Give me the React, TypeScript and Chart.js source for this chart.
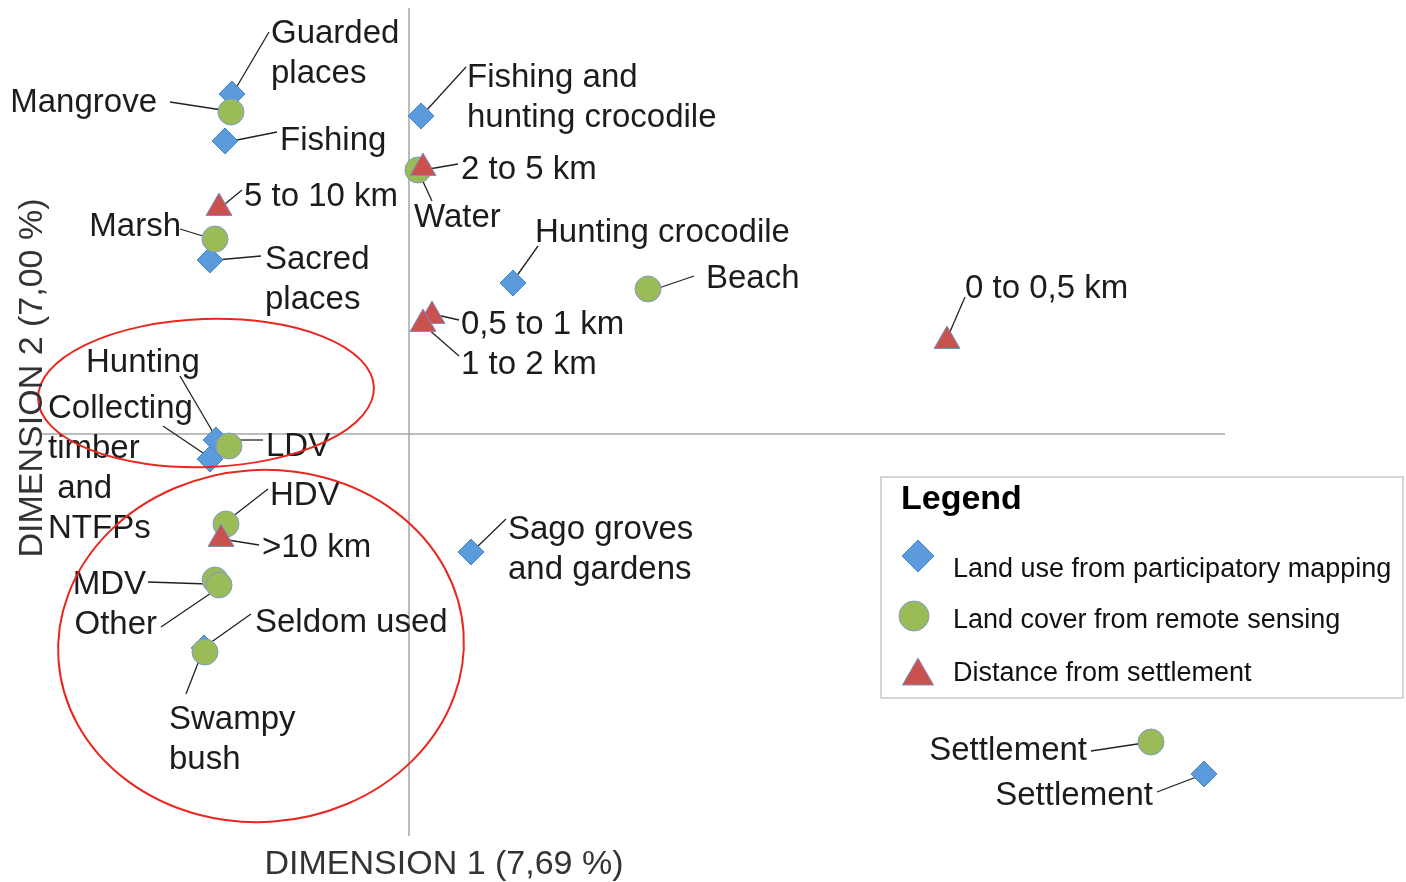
import React, { useEffect, useRef } from "react";
import { Chart, registerables } from "chart.js";

Chart.register(...registerables);

// ---- Data (dimension coordinates) ----
const landUseNames = [
  "Guarded places",
  "Fishing",
  "Fishing and hunting crocodile",
  "Sacred places",
  "Hunting crocodile",
  "Hunting",
  "Collecting timber and NTFPs",
  "Sago groves and gardens",
  "Seldom used",
  "Settlement",
];
const landUseX = [-0.885, -0.92, 0.06, -0.995, 0.52, -0.965, -0.995, 0.31, -1.025, 3.975];
const landUseY = [1.7, 1.465, 1.59, 0.87, 0.755, -0.03, -0.125, -0.59, -1.07, -1.7];

const landCoverNames = ["Mangrove", "Water", "Marsh", "Beach", "LDV", "HDV", "MDV", "Other", "Swampy bush", "Settlement"];
const landCoverX = [-0.89, 0.045, -0.97, 1.195, -0.9, -0.915, -0.97, -0.95, -1.02, 3.71];
const landCoverY = [1.61, 1.32, 0.975, 0.725, -0.06, -0.45, -0.73, -0.755, -1.09, -1.54];

const distanceNames = ["2 to 5 km", "5 to 10 km", "0,5 to 1 km", "1 to 2 km", "0 to 0,5 km", ">10 km"];
const distanceX = [0.07, -0.95, 0.115, 0.07, 2.69, -0.94];
const distanceY = [1.33, 1.13, 0.59, 0.55, 0.465, -0.525];

const seriesNames = ["Land use from participatory mapping", "Land cover from remote sensing", "Distance from settlement"];
const xTitle = "DIMENSION 1 (7,69 %)";
const yTitle = "DIMENSION 2 (7,00 %)";
const legendTitle = "Legend";

// ---- Label layout (pixel offsets from each point) ----
type Lab = { ds: number; i: number; lines: string[]; dx: number; dy: number; align: "left" | "right"; l: number[] };
const labelLayout: Lab[] = [
  { ds: 0, i: 0, lines: ["Guarded", "places"], dx: 39, dy: -63, align: "left", l: [4, -6, 37, -62] },
  { ds: 0, i: 1, lines: ["Fishing"], dx: 55, dy: -3, align: "left", l: [7, 0, 52, -9] },
  { ds: 0, i: 2, lines: ["Fishing and", "hunting crocodile"], dx: 46, dy: -41, align: "left", l: [4, -4, 45, -49] },
  { ds: 0, i: 3, lines: ["Sacred", "places"], dx: 55, dy: -3, align: "left", l: [6, 0, 51, -4] },
  { ds: 0, i: 4, lines: ["Hunting crocodile"], dx: 22, dy: -53, align: "left", l: [3, -6, 25, -37] },
  { ds: 0, i: 5, lines: ["Hunting"], dx: -130, dy: -80, align: "left", l: [-36, -64, -2, -6] },
  { ds: 0, i: 6, lines: ["Collecting", "timber", " and", "NTFPs"], dx: -162, dy: -53, align: "left", l: [-47, -33, -4, -4] },
  { ds: 0, i: 7, lines: ["Sago groves", "and gardens"], dx: 37, dy: -25, align: "left", l: [5, -4, 35, -33] },
  { ds: 0, i: 8, lines: ["Seldom used"], dx: 51, dy: -28, align: "left", l: [6, -5, 47, -34] },
  { ds: 0, i: 9, lines: ["Settlement"], dx: -51, dy: 19, align: "right", l: [-47, 18, -5, 2] },
  { ds: 1, i: 0, lines: ["Mangrove"], dx: -74, dy: -12, align: "right", l: [-61, -10, -9, -2] },
  { ds: 1, i: 1, lines: ["Water"], dx: -4, dy: 45, align: "left", l: [1, 3, 14, 31] },
  { ds: 1, i: 2, lines: ["Marsh"], dx: -34, dy: -15, align: "right", l: [-35, -10, -9, -2] },
  { ds: 1, i: 3, lines: ["Beach"], dx: 58, dy: -13, align: "left", l: [5, 1, 46, -13] },
  { ds: 1, i: 4, lines: ["LDV"], dx: 37, dy: -2, align: "left", l: [8, -6, 34, -6] },
  { ds: 1, i: 5, lines: ["HDV"], dx: 44, dy: -31, align: "left", l: [6, -7, 42, -35] },
  { ds: 1, i: 6, lines: ["MDV"], dx: -69, dy: 2, align: "right", l: [-67, 2, -7, 4] },
  { ds: 1, i: 7, lines: ["Other"], dx: -62, dy: 37, align: "right", l: [-58, 42, -5, 6] },
  { ds: 1, i: 8, lines: ["Swampy", "bush"], dx: -36, dy: 65, align: "left", l: [-5, 6, -19, 42] },
  { ds: 1, i: 9, lines: ["Settlement"], dx: -64, dy: 6, align: "right", l: [-60, 9, -7, 1] },
  { ds: 2, i: 0, lines: ["2 to 5 km"], dx: 38, dy: -1, align: "left", l: [6, 1, 35, -4] },
  { ds: 2, i: 1, lines: ["5 to 10 km"], dx: 25, dy: -14, align: "left", l: [6, -4, 23, -18] },
  { ds: 2, i: 2, lines: ["0,5 to 1 km"], dx: 29, dy: 6, align: "left", l: [5, -1, 27, 4] },
  { ds: 2, i: 3, lines: ["1 to 2 km"], dx: 38, dy: 38, align: "left", l: [4, 4, 36, 32] },
  { ds: 2, i: 4, lines: ["0 to 0,5 km"], dx: 18, dy: -55, align: "left", l: [2, -7, 18, -44] },
  { ds: 2, i: 5, lines: [">10 km"], dx: 41, dy: 6, align: "left", l: [7, 1, 38, 6] },
];

// ellipses in data units: cx, cy, rx, ry, rotation(deg)
const groupEllipses = [
  { cx: -1.015, cy: 0.205, rx: 0.84, ry: 0.37, rot: -2 },
  { cx: -0.74, cy: -1.06, rx: 1.015, ry: 0.88, rot: -4 },
];

const FONT = "'Liberation Sans', Arial, Helvetica, sans-serif";
const BLUE = "#5b9bdc";
const GREEN = "#9bbb59";
const RED = "#c9524f";
const TY = 3; // text baseline nudge

function drawMarker(ctx: CanvasRenderingContext2D, kind: number, x: number, y: number, r: number) {
  ctx.save();
  ctx.beginPath();
  if (kind === 0) {
    ctx.moveTo(x, y - r);
    ctx.lineTo(x + r, y);
    ctx.lineTo(x, y + r);
    ctx.lineTo(x - r, y);
    ctx.closePath();
    ctx.fillStyle = BLUE;
    ctx.strokeStyle = "#4a86c8";
  } else if (kind === 1) {
    ctx.arc(x, y, r, 0, Math.PI * 2);
    ctx.fillStyle = GREEN;
    ctx.strokeStyle = "#7f9cc4";
  } else {
    ctx.moveTo(x, y - r);
    ctx.lineTo(x + r * 0.866, y + r / 2);
    ctx.lineTo(x - r * 0.866, y + r / 2);
    ctx.closePath();
    ctx.fillStyle = RED;
    ctx.strokeStyle = "#7f8fbe";
  }
  ctx.fill();
  ctx.lineWidth = 1;
  ctx.stroke();
  ctx.restore();
}

const annotatePlugin = {
  id: "annotate",
  beforeDatasetsDraw(chart: any) {
    const { ctx } = chart;
    const xs = chart.scales.x;
    const ys = chart.scales.y;
    const x0 = xs.getPixelForValue(0);
    const y0 = ys.getPixelForValue(0);
    ctx.save();
    ctx.strokeStyle = "#a6a6a6";
    ctx.lineWidth = 1.5;
    ctx.beginPath();
    ctx.moveTo(x0, 8);
    ctx.lineTo(x0, 836);
    ctx.moveTo(42, y0);
    ctx.lineTo(1225, y0);
    ctx.stroke();
    // leader lines
    ctx.strokeStyle = "#222";
    ctx.lineWidth = 1.3;
    for (const lab of labelLayout) {
      const pt = chart.getDatasetMeta(lab.ds).data[lab.i];
      if (!pt) continue;
      ctx.beginPath();
      ctx.moveTo(pt.x + lab.l[0], pt.y + lab.l[1]);
      ctx.lineTo(pt.x + lab.l[2], pt.y + lab.l[3]);
      ctx.stroke();
    }
    ctx.restore();
  },
  afterDatasetsDraw(chart: any) {
    const { ctx } = chart;
    const xs = chart.scales.x;
    const ys = chart.scales.y;
    ctx.save();
    // labels
    ctx.fillStyle = "#1c1c1c";
    ctx.font = `33px ${FONT}`;
    ctx.textBaseline = "middle";
    for (const lab of labelLayout) {
      const pt = chart.getDatasetMeta(lab.ds).data[lab.i];
      if (!pt) continue;
      ctx.textAlign = lab.align;
      lab.lines.forEach((t, k) => {
        ctx.fillText(t, pt.x + lab.dx, pt.y + lab.dy + k * 40 + TY);
      });
    }
    // ellipses
    ctx.strokeStyle = "#e8281e";
    ctx.lineWidth = 2;
    for (const e of groupEllipses) {
      const cx = xs.getPixelForValue(e.cx);
      const cy = ys.getPixelForValue(e.cy);
      const rx = Math.abs(xs.getPixelForValue(e.cx + e.rx) - cx);
      const ry = Math.abs(ys.getPixelForValue(e.cy + e.ry) - cy);
      ctx.beginPath();
      ctx.ellipse(cx, cy, rx, ry, (e.rot * Math.PI) / 180, 0, Math.PI * 2);
      ctx.stroke();
    }
    // axis titles
    ctx.fillStyle = "#333";
    ctx.font = `34px ${FONT}`;
    ctx.textAlign = "center";
    ctx.fillText(xTitle, 444, 862 + TY);
    ctx.save();
    ctx.translate(30 + TY, 378);
    ctx.rotate(-Math.PI / 2);
    ctx.fillText(yTitle, 0, 0);
    ctx.restore();
    // legend box
    ctx.fillStyle = "#fff";
    ctx.fillRect(881, 477, 522, 221);
    ctx.strokeStyle = "#c8c8c8";
    ctx.lineWidth = 1.5;
    ctx.strokeRect(881, 477, 522, 221);
    ctx.fillStyle = "#000";
    ctx.textAlign = "left";
    ctx.font = `bold 34px ${FONT}`;
    ctx.fillText(legendTitle, 901, 497 + TY);
    drawMarker(ctx, 0, 918, 556, 16);
    drawMarker(ctx, 1, 914, 616, 15);
    drawMarker(ctx, 2, 918, 676, 18);
    ctx.font = `27px ${FONT}`;
    ctx.fillStyle = "#111";
    ctx.fillText(seriesNames[0], 953, 567 + TY);
    ctx.fillText(seriesNames[1], 953, 618 + TY);
    ctx.fillText(seriesNames[2], 953, 671 + TY);
    ctx.restore();
  },
};

export default function App() {
  const ref = useRef<HTMLCanvasElement>(null);
  useEffect(() => {
    if (!ref.current) return;
    const toPts = (xs: number[], ys: number[]) => xs.map((x, i) => ({ x, y: ys[i] }));
    const chart = new Chart(ref.current, {
      type: "scatter",
      data: {
        datasets: [
          {
            label: seriesNames[0],
            data: toPts(landUseX, landUseY),
            pointStyle: "rectRot",
            pointRadius: 13,
            backgroundColor: BLUE,
            borderColor: "#4a86c8",
            borderWidth: 1,
            order: 3,
            clip: false,
          } as any,
          {
            label: seriesNames[1],
            data: toPts(landCoverX, landCoverY),
            pointStyle: "circle",
            pointRadius: 13,
            backgroundColor: GREEN,
            borderColor: "#7f9cc4",
            borderWidth: 1,
            order: 2,
            clip: false,
          } as any,
          {
            label: seriesNames[2],
            data: toPts(distanceX, distanceY),
            pointStyle: "triangle",
            pointRadius: 15,
            backgroundColor: RED,
            borderColor: "#7f8fbe",
            borderWidth: 1,
            order: 1,
            clip: false,
          } as any,
        ],
      },
      options: {
        animation: false,
        responsive: false,
        layout: { padding: 0, autoPadding: false } as any,
        plugins: { legend: { display: false }, tooltip: { enabled: false } },
        scales: {
          x: { type: "linear", min: -2.045, max: 4.985, display: false },
          y: { type: "linear", min: -2.24, max: 2.17, display: false },
        },
      },
      plugins: [annotatePlugin],
    });
    return () => chart.destroy();
  }, []);
  return (
    <div style={{ position: "absolute", left: 0, top: 0, width: 1406, height: 882, background: "#fff" }}>
      <canvas ref={ref} width={1406} height={882} style={{ display: "block" }} />
    </div>
  );
}
